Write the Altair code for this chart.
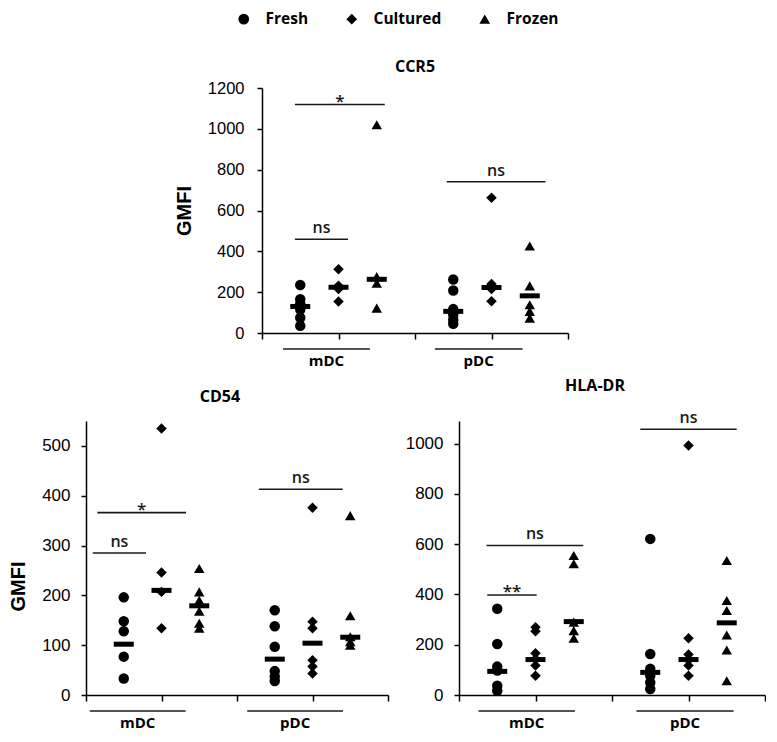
import altair as alt
import pandas as pd

TYPES = ["Fresh", "Cultured", "Frozen"]
SHAPES = ["circle", "diamond", "triangle-up"]
GROUPS = ["mDC", "pDC"]

# ---------------- CCR5 ----------------
ccr5_mdc_fresh = [235, 165, 145, 115, 75, 35]
ccr5_mdc_cultured = [312, 231, 215, 154]
ccr5_mdc_frozen = [1020, 276, 244, 122]
ccr5_pdc_fresh = [262, 208, 117, 90, 65, 45]
ccr5_pdc_cultured = [662, 240, 215, 155]
ccr5_pdc_frozen = [426, 231, 138, 106, 73]
ccr5_medians = [130, 224, 263, 106, 223, 182]
ccr5_sig_x1 = [0.86, 0.86, 4.83]
ccr5_sig_x2 = [3.21, 2.25, 7.41]
ccr5_sig_y = [1119, 459, 741]
ccr5_sig_label = ["*", "ns", "ns"]
ccr5_group_x1 = [0.55, 4.52]
ccr5_group_x2 = [2.82, 6.81]

# ---------------- CD54 ----------------
cd54_mdc_fresh = [196, 148, 128, 77, 33]
cd54_mdc_cultured = [535, 246, 207, 134]
cd54_mdc_frozen = [254, 207, 190, 168, 144, 134]
cd54_pdc_fresh = [170, 138, 97, 48, 37, 28]
cd54_pdc_cultured = [376, 147, 134, 70, 57, 43]
cd54_pdc_frozen = [360, 159, 117, 107, 100]
cd54_medians = [102, 210, 179, 72, 104, 116]
cd54_sig_x1 = [0.18, 0.30, 4.58]
cd54_sig_x2 = [1.59, 2.65, 6.80]
cd54_sig_y = [285, 366, 413]
cd54_sig_label = ["ns", "*", "ns"]
cd54_group_x1 = [0.10, 4.27]
cd54_group_x2 = [2.64, 6.81]

# ---------------- HLA-DR ----------------
hla_mdc_fresh = [343, 203, 113, 97, 37, 17]
hla_mdc_cultured = [270, 254, 166, 143, 117, 77]
hla_mdc_frozen = [555, 522, 290, 256, 226]
hla_pdc_fresh = [621, 163, 104, 77, 50, 24]
hla_pdc_cultured = [993, 226, 161, 139, 117, 77]
hla_pdc_frozen = [535, 376, 336, 239, 179, 57]
hla_medians = [94, 141, 292, 90, 141, 287]
hla_sig_x1 = [0.72, 0.74, 4.74]
hla_sig_x2 = [3.25, 2.03, 7.26]
hla_sig_y = [595, 398, 1057]
hla_sig_label = ["ns", "**", "ns"]
hla_group_x1 = [0.51, 4.64]
hla_group_x2 = [3.03, 7.18]

AX_FONT = "Liberation Sans"
TXT_FONT = "Open Sans"

LEGEND = alt.Legend(
    orient="none", legendX=150, legendY=3, direction="horizontal", title=None,
    labelFont=TXT_FONT, labelFontWeight="bold", labelFontSize=15.5, labelColor="black",
    symbolSize=115, symbolFillColor="black", symbolStrokeWidth=0, symbolOpacity=1,
    labelOffset=14, columnPadding=35,
)


def panel(title, values, medians, sig_x1, sig_x2, sig_y, sig_label, gx1, gx2,
          ymax, yticks, width, height, ytitle, tick_font, label_pad, title_dx,
          title_offset, title_y=None):
    rows = []
    for gi, g in enumerate(GROUPS):
        for ti, t in enumerate(TYPES):
            for v in values[gi][ti]:
                rows.append({"x": gi * 4 + ti + 1, "value": v, "type": t})
    pts = pd.DataFrame(rows)
    med = pd.DataFrame({
        "x": [gi * 4 + ti + 1 for gi in range(2) for ti in range(3)],
        "value": medians,
    })
    sig = pd.DataFrame({"x1": sig_x1, "x2": sig_x2, "y": sig_y, "label": sig_label})
    sig["xm"] = (sig["x1"] + sig["x2"]) / 2
    grp = pd.DataFrame({"x1": gx1, "x2": gx2, "label": GROUPS})
    grp["xm"] = (grp["x1"] + grp["x2"]) / 2

    xscale = alt.Scale(domain=[0, 8], nice=False, zero=False)
    yscale = alt.Scale(domain=[0, ymax], nice=False)
    xaxis = alt.Axis(values=list(range(9)), labels=False, title=None, grid=False,
                     tickSize=6, tickWidth=1.5, domainWidth=1.5,
                     domainColor="black", tickColor="black")
    yaxis_kw = dict(values=yticks, format="d", grid=False, tickSize=5, tickWidth=1.5,
                    domainWidth=1.5, domainColor="black", tickColor="black",
                    labelFont=AX_FONT, labelFontSize=tick_font, labelColor="black",
                    labelPadding=label_pad, title=ytitle,
                    titleFont=AX_FONT, titleFontWeight="bold", titleFontSize=20,
                    titleColor="black", titlePadding=13)
    if title_y is not None:
        yaxis_kw["titleY"] = title_y
    yaxis = alt.Axis(**yaxis_kw)

    points = alt.Chart(pts).mark_point(filled=True, opacity=1, color="black",
                                       size=110).encode(
        x=alt.X("x:Q", scale=xscale, axis=xaxis),
        y=alt.Y("value:Q", scale=yscale, axis=yaxis),
        shape=alt.Shape("type:N", scale=alt.Scale(domain=TYPES, range=SHAPES), legend=LEGEND),
    )
    ticks = alt.Chart(med).mark_tick(orient="horizontal", size=20, thickness=5,
                                     color="black", opacity=1).encode(
        x=alt.X("x:Q", scale=xscale), y=alt.Y("value:Q", scale=yscale))
    rules = alt.Chart(sig).mark_rule(color="#1a1a1a", strokeWidth=1.6).encode(
        x=alt.X("x1:Q", scale=xscale), x2="x2:Q", y=alt.Y("y:Q", scale=yscale))
    sig_ns = alt.Chart(sig).transform_filter("datum.label == 'ns'").mark_text(
        font=TXT_FONT, fontSize=16, fontWeight=600, baseline="alphabetic", dy=-6,
        color="#1a1a1a").encode(x=alt.X("xm:Q", scale=xscale),
                                y=alt.Y("y:Q", scale=yscale), text="label:N")
    sig_star = alt.Chart(sig).transform_filter("datum.label != 'ns'").mark_text(
        font=TXT_FONT, fontSize=17, fontWeight=600, baseline="alphabetic", dy=2,
        color="#1a1a1a").encode(x=alt.X("xm:Q", scale=xscale),
                                y=alt.Y("y:Q", scale=yscale), text="label:N")
    grules = alt.Chart(grp).mark_rule(color="#1a1a1a", strokeWidth=1.6).encode(
        x=alt.X("x1:Q", scale=xscale), x2="x2:Q", y=alt.value(height + 16))
    gtext = alt.Chart(grp).mark_text(font=TXT_FONT, fontSize=15, fontWeight="bold",
                                     baseline="middle", color="black").encode(
        x=alt.X("xm:Q", scale=xscale), y=alt.value(height + 28), text="label:N")

    return alt.layer(points, ticks, rules, sig_ns, sig_star, grules, gtext).properties(
        width=width, height=height,
        title=alt.TitleParams(title, font=TXT_FONT, fontWeight="bold", fontSize=16,
                              color="black", anchor="middle", frame="group",
                              baseline="alphabetic", dx=title_dx, offset=title_offset),
    )


ccr5 = panel("CCR5",
             [[ccr5_mdc_fresh, ccr5_mdc_cultured, ccr5_mdc_frozen],
              [ccr5_pdc_fresh, ccr5_pdc_cultured, ccr5_pdc_frozen]],
             ccr5_medians, ccr5_sig_x1, ccr5_sig_x2, ccr5_sig_y, ccr5_sig_label,
             ccr5_group_x1, ccr5_group_x2,
             ymax=1200, yticks=[0, 200, 400, 600, 800, 1000, 1200],
             width=306, height=245, ytitle="GMFI", tick_font=16.5, label_pad=13,
             title_dx=0, title_offset=-8)

cd54 = panel("CD54",
             [[cd54_mdc_fresh, cd54_mdc_cultured, cd54_mdc_frozen],
              [cd54_pdc_fresh, cd54_pdc_cultured, cd54_pdc_frozen]],
             cd54_medians, cd54_sig_x1, cd54_sig_x2, cd54_sig_y, cd54_sig_label,
             cd54_group_x1, cd54_group_x2,
             ymax=550, yticks=[0, 100, 200, 300, 400, 500],
             width=302, height=274, ytitle="GMFI", tick_font=17, label_pad=11,
             title_dx=-17, title_offset=3, title_y=165)

hla = panel("HLA-DR",
            [[hla_mdc_fresh, hla_mdc_cultured, hla_mdc_frozen],
             [hla_pdc_fresh, hla_pdc_cultured, hla_pdc_frozen]],
            hla_medians, hla_sig_x1, hla_sig_x2, hla_sig_y, hla_sig_label,
            hla_group_x1, hla_group_x2,
            ymax=1090, yticks=[0, 200, 400, 600, 800, 1000],
            width=306, height=274, ytitle=None, tick_font=17, label_pad=11,
            title_dx=-17, title_offset=3)


def blank(w, h):
    return alt.Chart(pd.DataFrame({"v": [0]})).mark_point(opacity=0).encode(
        x=alt.X("v:Q", axis=None), y=alt.Y("v:Q", axis=None)
    ).properties(width=w, height=h)


legend_row = blank(10, 30)
top = alt.hconcat(blank(88, 1), ccr5, spacing=0)
bottom = alt.hconcat(cd54, hla, spacing=16)
panels = alt.vconcat(top, bottom, spacing=9)

chart = alt.vconcat(legend_row, panels, spacing=21).properties(padding=0).configure_view(
    stroke=None
)

chart.save("out.html", embed_options={"renderer": "svg", "actions": False})
